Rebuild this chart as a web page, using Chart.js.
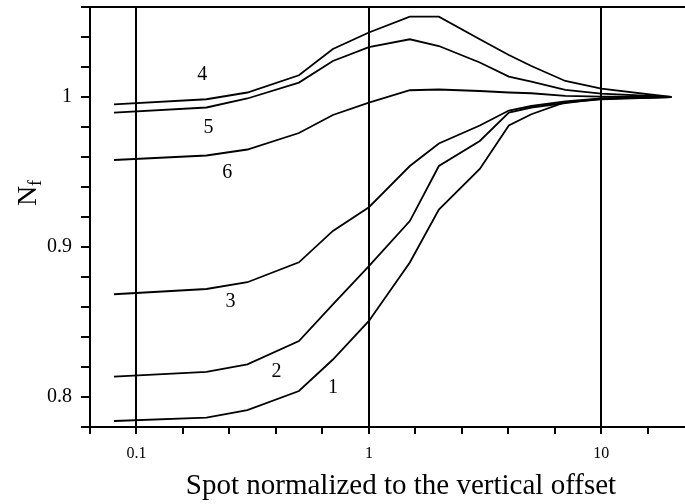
<!DOCTYPE html>
<html lang="en">
<head>
<meta charset="UTF-8">
<title>Nf versus normalized spot</title>
<style>
  body { margin: 0; background: #fff; }
  #wrap { width: 685px; height: 504px; position: relative; }
</style>
</head>
<body>
<div id="wrap"><canvas id="nfChart"></canvas></div>

<script src="https://cdn.jsdelivr.net/npm/chart.js"></script>
<script>
// spot size normalized to the vertical offset (x, log axis)
const spotX = [0.08, 0.2, 0.3, 0.5, 0.7, 1, 1.5, 2, 3, 4, 5, 7, 10, 20];

// Nf for the six curves
const curve1 = [0.784, 0.7863, 0.7913, 0.804, 0.825, 0.8507, 0.8897, 0.925, 0.952, 0.981, 0.9885, 0.9965, 0.9985, 1.0];
const curve2 = [0.8136, 0.8167, 0.8218, 0.8373, 0.8618, 0.8873, 0.9173, 0.954, 0.9707, 0.9896, 0.993, 0.996, 0.999, 1.0];
const curve3 = [0.8685, 0.872, 0.8765, 0.8898, 0.9107, 0.9265, 0.954, 0.969, 0.981, 0.991, 0.994, 0.997, 0.999, 1.0];
const curve4 = [0.9951, 0.9985, 1.003, 1.0145, 1.032, 1.043, 1.0536, 1.0536, 1.0385, 1.028, 1.0207, 1.0107, 1.0056, 1.0];
const curve5 = [0.9896, 0.993, 0.999, 1.0096, 1.024, 1.0333, 1.0385, 1.034, 1.023, 1.0136, 1.0103, 1.0047, 1.0023, 1.0];
const curve6 = [0.958, 0.961, 0.965, 0.976, 0.988, 0.9963, 1.0045, 1.005, 1.004, 1.003, 1.0025, 1.0007, 1.0003, 1.0];

// curve number labels, placed in data units
const curveNames = ['1', '2', '3', '4', '5', '6'];
const curveLabelX = [0.70, 0.40, 0.254, 0.192, 0.204, 0.246];
const curveLabelY = [0.8065, 0.8171, 0.8638, 1.0151, 0.9798, 0.9498];

// labelled ticks
const xLabelTicks = [0.1, 1, 10];
const xLabelText = ['0.1', '1', '10'];
const yLabelTicks = [0.8, 0.9, 1];
const yLabelText = ['0.8', '0.9', '1'];

const xTitle = 'Spot normalized to the vertical offset';

const allCurves = [curve1, curve2, curve3, curve4, curve5, curve6];
const FONT = '"Liberation Serif", "Times New Roman", serif';

function xLabelIndex(v) {
    return xLabelTicks.findIndex(t => Math.abs(Math.log10(t) - Math.log10(v)) < 0.01);
}
function yLabelIndex(v) {
    return yLabelTicks.findIndex(t => Math.abs(t - v) < 0.001);
}

// minor ticks: five per decade on x, every 0.02 on y
const xTicks = [];
for (let k = 0; k <= 12; k++) xTicks.push({ value: Math.pow(10, -1.2 + 0.2 * k) });
const yTicks = [];
for (let k = 0; k <= 14; k++) yTicks.push({ value: Math.round((0.78 + 0.02 * k) * 100) / 100 });

const datasets = allCurves.map((vals, i) => ({
    label: 'curve ' + curveNames[i],
    data: spotX.map((x, j) => ({ x: x, y: vals[j] })),
    borderColor: '#000',
    borderWidth: 1.8,
    pointRadius: 0,
    tension: 0,
    fill: false
}));

// curve numbers, the x title and the Nf axis title
const figureText = {
    id: 'figureText',
    afterDraw(chart) {
        const { ctx, scales: { x, y } } = chart;
        ctx.save();
        ctx.fillStyle = '#000';
        ctx.font = '20px ' + FONT;
        ctx.textAlign = 'center';
        ctx.textBaseline = 'middle';
        curveNames.forEach((name, i) => {
            ctx.fillText(name, x.getPixelForValue(curveLabelX[i]), y.getPixelForValue(curveLabelY[i]));
        });

        ctx.font = '29px ' + FONT;
        ctx.fillText(xTitle, 401, 486);

        ctx.translate(27, 193);
        ctx.rotate(-Math.PI / 2);
        ctx.textAlign = 'left';
        ctx.textBaseline = 'alphabetic';
        ctx.font = '28px ' + FONT;
        const wN = ctx.measureText('N').width;
        ctx.font = '18px ' + FONT;
        const wf = ctx.measureText('f').width;
        const start = -(wN + wf) / 2;
        ctx.font = '28px ' + FONT;
        ctx.fillText('N', start, 9);
        ctx.font = '18px ' + FONT;
        ctx.fillText('f', start + wN, 14);
        ctx.restore();
    }
};

new Chart(document.getElementById('nfChart'), {
    type: 'line',
    data: { datasets: datasets },
    options: {
        responsive: true,
        maintainAspectRatio: false,
        animation: false,
        layout: { padding: { top: 7, right: 0, left: 0, bottom: 0 } },
        plugins: {
            legend: { display: false },
            tooltip: { enabled: false }
        },
        scales: {
            x: {
                type: 'logarithmic',
                position: 'bottom',
                min: Math.pow(10, -1.2),
                max: Math.pow(10, 1.36),
                afterBuildTicks: s => { s.ticks = xTicks.map(t => ({ value: t.value })); },
                afterFit: s => { s.height = 77; s.paddingLeft = 0; s.paddingRight = 0; },
                grid: {
                    drawOnChartArea: true,
                    color: c => (c.tick && xLabelIndex(c.tick.value) >= 0) ? '#000' : 'rgba(0,0,0,0)',
                    tickColor: '#000',
                    lineWidth: 2,
                    tickLength: 7
                },
                border: { display: true, color: '#000', width: 2 },
                ticks: {
                    autoSkip: false,
                    maxRotation: 0,
                    padding: 10,
                    color: '#000',
                    font: { family: FONT, size: 16 },
                    callback: v => { const i = xLabelIndex(v); return i >= 0 ? xLabelText[i] : ''; }
                }
            },
            x2: {
                type: 'linear',
                position: 'top',
                min: 0,
                max: 1,
                afterFit: s => { s.height = 0; s.paddingLeft = 0; s.paddingRight = 0; },
                grid: { display: false, drawTicks: false },
                ticks: { display: false },
                border: { display: true, color: '#000', width: 2 }
            },
            y: {
                type: 'linear',
                min: 0.78,
                max: 1.06,
                afterBuildTicks: s => { s.ticks = yTicks.map(t => ({ value: t.value })); },
                afterFit: s => { s.width = 90; s.paddingTop = 0; s.paddingBottom = 0; },
                grid: {
                    drawOnChartArea: false,
                    tickColor: '#000',
                    lineWidth: 2,
                    tickLength: 9
                },
                border: { display: true, color: '#000', width: 2 },
                ticks: {
                    autoSkip: false,
                    padding: 9,
                    color: '#000',
                    font: { family: FONT, size: 20 },
                    callback: v => { const i = yLabelIndex(v); return i >= 0 ? yLabelText[i] : ''; }
                }
            }
        }
    },
    plugins: [figureText]
});
</script>
</body>
</html>
